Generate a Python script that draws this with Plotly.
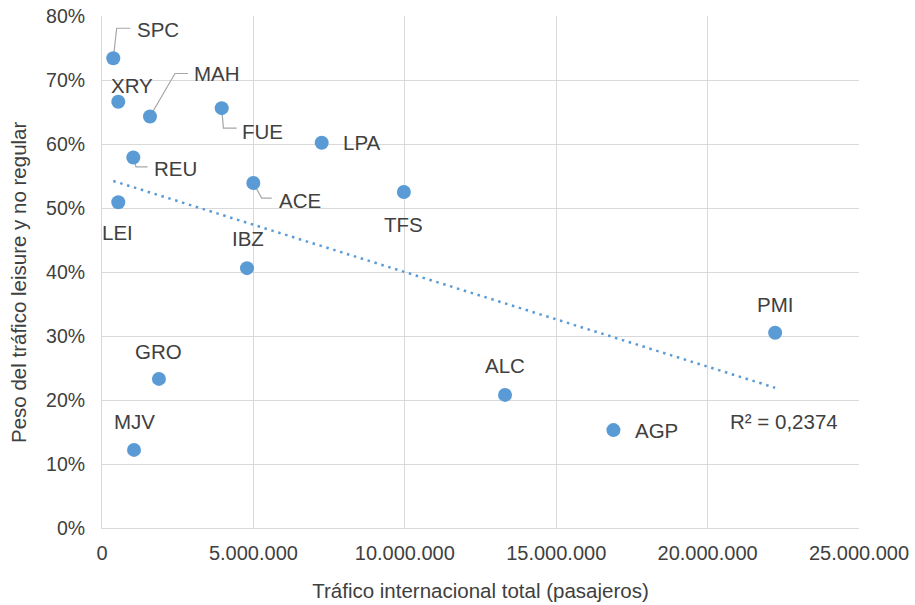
#%% IMPORTS

import numpy as np
import plotly.graph_objects as go

#%% DATA

airports = ['SPC', 'XRY', 'MAH', 'FUE', 'LPA', 'REU', 'ACE', 'TFS',
            'LEI', 'IBZ', 'PMI', 'GRO', 'ALC', 'AGP', 'MJV']
traffic = [373000, 538000, 1585000, 3953000, 7256000, 1034000, 4997000, 9970000,
           538000, 4789000, 22230000, 1880000, 13310000, 16890000, 1057000]
leisure_share = [0.734, 0.666, 0.643, 0.656, 0.602, 0.579, 0.539, 0.525,
                 0.509, 0.406, 0.305, 0.233, 0.208, 0.153, 0.122]
r2_label = 'R² = 0,2374'

x_ticks = [0, 5000000, 10000000, 15000000, 20000000, 25000000]
y_ticks = [0, 0.1, 0.2, 0.3, 0.4, 0.5, 0.6, 0.7, 0.8]

# label offsets in px (x right, y up)
label_shift = {
    'SPC': (45, 29), 'XRY': (14, 16), 'MAH': (67, 43), 'FUE': (41, -23),
    'LPA': (40, 0), 'REU': (42, -11), 'ACE': (47, -17), 'TFS': (0, -32),
    'LEI': (-1, -30), 'IBZ': (1, 30), 'PMI': (0, 28), 'GRO': (0, 27),
    'ALC': (0, 29), 'AGP': (43, 0), 'MJV': (0, 28),
}
# leader lines (px path relative to the point)
leaders = {
    'SPC': 'M0,0 L3.4,30 L17,30',
    'MAH': 'M0,0 L25,43 L38,43',
    'FUE': 'M0,0 L1.7,-20 L15,-20',
    'REU': 'M0,0 L2.7,-9.4 L14.3,-9.4',
    'ACE': 'M0,0 L8.4,-15 L18.4,-15',
}

BLUE = '#5B9BD5'
FONT = 'Liberation Sans, Arial, sans-serif'
TXT = '#404040'

#%% FIGURE

fig = go.Figure()

# Linear trendline
slope, intercept = np.polyfit(traffic, leisure_share, 1)
x_fit = np.array([min(traffic), max(traffic)])
y_fit = slope * x_fit + intercept

fig.add_trace(go.Scatter(
    x=x_fit, y=y_fit, mode='lines',
    line=dict(color=BLUE, width=2.5, dash='2.5px,4.7px'),
    hoverinfo='skip', showlegend=False
))

fig.add_trace(go.Scatter(
    x=traffic, y=leisure_share, mode='markers',
    marker=dict(color=BLUE, size=14),
    text=airports,
    hovertemplate='<b>%{text}</b><br>%{x:,.0f}<br>%{y:.1%}<extra></extra>',
    showlegend=False
))

for name, xv, yv in zip(airports, traffic, leisure_share):
    dx, dy = label_shift[name]
    fig.add_annotation(
        x=xv, y=yv, text=name, showarrow=False,
        xshift=dx, yshift=dy,
        font=dict(family=FONT, size=20.5, color=TXT)
    )
    if name in leaders:
        fig.add_shape(
            type='path', path=leaders[name],
            xref='x', yref='y',
            xsizemode='pixel', ysizemode='pixel',
            xanchor=xv, yanchor=yv,
            line=dict(color='#A6A6A6', width=1.2),
            layer='between'
        )

fig.add_annotation(
    x=x_fit[-1], y=y_fit[-1], text=r2_label, showarrow=False,
    xshift=9, yshift=-34,
    font=dict(family=FONT, size=20.5, color=TXT)
)

# y axis title (sits a bit below the plot centre, like in Excel)
fig.add_annotation(
    xref='paper', yref='paper', x=0, y=0.5,
    xanchor='center', yanchor='middle',
    xshift=-84, yshift=-10, textangle=-90, showarrow=False,
    text='Peso del tráfico leisure y no regular',
    font=dict(family=FONT, size=20.5, color=TXT)
)

fig.update_layout(
    width=915, height=605,
    margin=dict(l=102, r=56, t=16, b=77),
    paper_bgcolor='white', plot_bgcolor='white',
    separators=',.',
    font=dict(family=FONT, size=20, color=TXT),
    xaxis=dict(
        range=[0, 25000000], tickvals=x_ticks, tickformat=',.0f',
        showgrid=True, gridcolor='#D9D9D9', gridwidth=1,
        showline=True, linecolor='#D9D9D9', zeroline=False,
        ticks='', ticklabelstandoff=7, automargin=False,
        ticklabeloverflow='allow',
        tickfont=dict(size=20, color=TXT),
        title=dict(text='Tráfico internacional total (pasajeros)',
                   font=dict(size=20.5, color=TXT), standoff=20),
    ),
    yaxis=dict(
        range=[0, 0.8], tickvals=y_ticks, tickformat='.0%',
        showgrid=True, gridcolor='#D9D9D9', gridwidth=1,
        showline=True, linecolor='#D9D9D9', zeroline=False,
        ticks='', ticklabelstandoff=12, automargin=False,
        ticklabeloverflow='allow',
        tickfont=dict(size=19.5, color=TXT),
    ),
)

# drop the default 8px page margin so the figure fills the window
fig.write_html('out.html', config={'displayModeBar': False},
               post_script="document.body.style.margin='0';")
